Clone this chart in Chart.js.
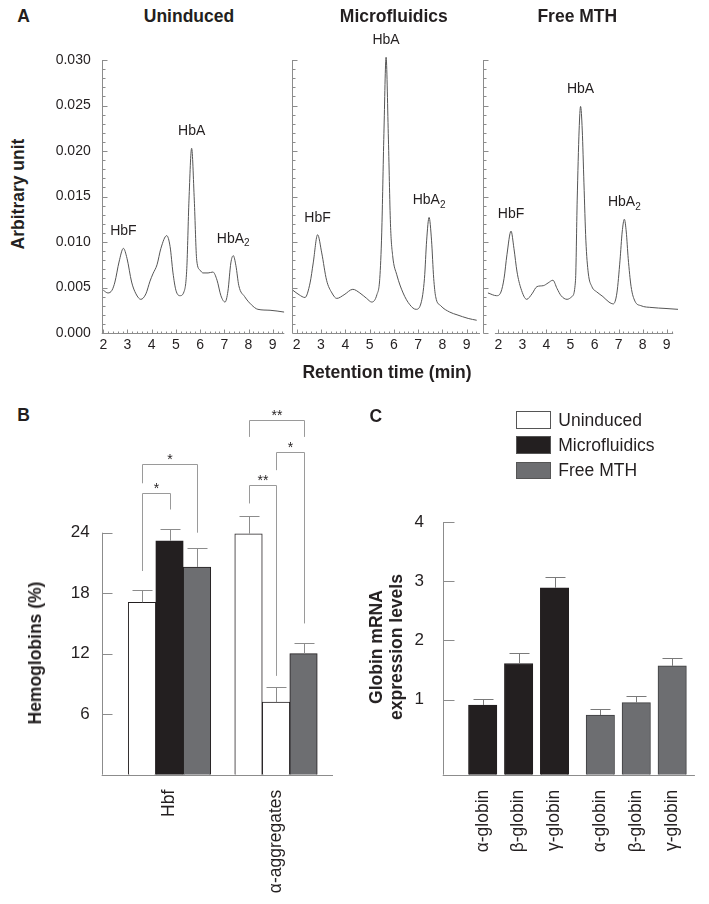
<!DOCTYPE html>
<html>
<head>
<meta charset="utf-8">
<script src="https://cdn.jsdelivr.net/npm/chart.js@4.4.1/dist/chart.umd.min.js"></script>
<style>
  body { margin: 0; background: #fff; font-family: "Liberation Sans", Arial, Helvetica, sans-serif; color: #231f20; }
  #page { position: relative; width: 709px; height: 904px; overflow: hidden; }
  canvas { position: absolute; }
  .t { position: absolute; white-space: nowrap; line-height: 20px; transform: translate(-50%, -50%); }
  .b { font-weight: bold; font-size: 17.5px; }
  .v { transform: translate(-50%, -50%) rotate(-90deg); text-align: center; }
  .key { position: absolute; left: 515.7px; width: 35.3px; height: 17.7px; box-sizing: border-box; border: 1px solid #555; }
  .keytext { position: absolute; left: 558.3px; font-size: 17.5px; line-height: 20px; white-space: nowrap; transform: translateY(-50%); }
</style>
</head>
<body>
<div id="page">
  <canvas id="cA1" width="260" height="340" style="left:30px;top:28px"></canvas>
  <canvas id="cA2" width="200" height="340" style="left:285px;top:28px"></canvas>
  <canvas id="cA3" width="220" height="340" style="left:477px;top:28px"></canvas>
  <canvas id="cB" width="310" height="520" style="left:40px;top:380px"></canvas>
  <canvas id="cC" width="354" height="420" style="left:355px;top:480px"></canvas>

  <div class="t b" style="left:23.7px;top:15.6px">A</div>
  <div class="t b" style="left:189px;top:15.6px">Uninduced</div>
  <div class="t b" style="left:393.8px;top:15.6px">Microfluidics</div>
  <div class="t b" style="left:577.3px;top:15.6px">Free MTH</div>
  <div class="t b v" style="left:18px;top:194px">Arbitrary unit</div>
  <div class="t b" style="left:387px;top:372.2px">Retention time (min)</div>
  <div class="t b" style="left:23.7px;top:414.6px">B</div>
  <div class="t b" style="left:375.8px;top:415.6px">C</div>
  <div class="t b v" style="left:35.4px;top:652.5px">Hemoglobins (%)</div>
  <div class="t b v" style="left:386px;top:647px">Globin mRNA<br>expression levels</div>
  <div id="legend"></div>
</div>
<script>
// ---- panel A: chromatograms ----
const retentionTicks = [2, 3, 4, 5, 6, 7, 8, 9];
const signalTicks = [0, 0.005, 0.010, 0.015, 0.020, 0.025, 0.030];
const peakNames = ['HbF', 'HbA', 'HbA2'];

const uninducedTime = [2.00, 2.19, 2.36, 2.48, 2.65, 2.83, 2.98, 3.17, 3.35, 3.55, 3.76, 3.93, 4.05, 4.22, 4.38,
  4.62, 4.76, 4.88, 5.00, 5.17, 5.33, 5.45, 5.54, 5.65, 5.76, 5.86, 6.00, 6.12, 6.33, 6.53, 6.70, 6.86, 7.03,
  7.15, 7.27, 7.37, 7.48, 7.60, 7.84, 8.12, 8.39, 8.89, 9.47];
const uninducedSignal = [0.0047, 0.0044, 0.0047, 0.0056, 0.0078, 0.0093, 0.0082, 0.0056, 0.0043, 0.0037, 0.0043,
  0.0057, 0.0065, 0.0075, 0.0093, 0.0107, 0.0095, 0.0066, 0.0047, 0.0041, 0.0045, 0.0071, 0.0146, 0.0203, 0.0146,
  0.0080, 0.0069, 0.0066, 0.0066, 0.0067, 0.0058, 0.0041, 0.0034, 0.0046, 0.0077, 0.0085, 0.0074, 0.0052, 0.0040,
  0.0031, 0.0026, 0.0025, 0.0023];
const uninducedPeaks = [2.83, 5.65, 7.37];

const microTime = [1.84, 2.10, 2.34, 2.55, 2.68, 2.86, 3.03, 3.23, 3.45, 3.65, 3.95, 4.31, 4.60, 4.88, 5.09, 5.30,
  5.42, 5.50, 5.59, 5.68, 5.77, 5.86, 5.95, 6.12, 6.38, 6.66, 6.91, 7.12, 7.26, 7.35, 7.45, 7.55, 7.64, 7.72,
  7.93, 8.30, 8.60, 9.06, 9.41];
const microSignal = [0.0047, 0.0042, 0.0039, 0.0055, 0.0077, 0.0108, 0.0088, 0.0058, 0.0044, 0.0038, 0.0042, 0.0048,
  0.0044, 0.0038, 0.0034, 0.0042, 0.0060, 0.0110, 0.0219, 0.0303, 0.0219, 0.0120, 0.0085, 0.0064, 0.0044, 0.0031,
  0.0026, 0.0033, 0.0060, 0.0102, 0.0127, 0.0102, 0.0060, 0.0040, 0.0030, 0.0023, 0.0020, 0.0016, 0.0014];
const microPeaks = [2.86, 5.68, 7.45];

const freeTime = [1.57, 1.93, 2.11, 2.24, 2.36, 2.53, 2.65, 2.78, 2.94, 3.18, 3.40, 3.61, 3.87, 4.07, 4.27, 4.44,
  4.61, 4.86, 5.06, 5.21, 5.28, 5.36, 5.42, 5.49, 5.56, 5.64, 5.74, 5.89, 6.10, 6.35, 6.60, 6.78, 6.93, 7.06,
  7.15, 7.24, 7.32, 7.40, 7.52, 7.68, 7.93, 8.39, 8.93, 9.47];
const freeSignal = [0.0044, 0.0041, 0.0045, 0.0060, 0.0086, 0.0112, 0.0093, 0.0067, 0.0049, 0.0037, 0.0043, 0.0051,
  0.0052, 0.0055, 0.0058, 0.0049, 0.0041, 0.0037, 0.0040, 0.0058, 0.0146, 0.0223, 0.0249, 0.0223, 0.0165, 0.0102,
  0.0066, 0.0051, 0.0045, 0.0040, 0.0034, 0.0032, 0.0044, 0.0080, 0.0111, 0.0125, 0.0111, 0.0082, 0.0051, 0.0035,
  0.0030, 0.0028, 0.0027, 0.0026];
const freePeaks = [2.53, 5.42, 7.24];

// ---- panel B: hemoglobins ----
const hbCategories = ['Hbf', 'α-aggregates'];
const treatments = ['Uninduced', 'Microfluidics', 'Free MTH'];
const uninducedHb = [17.1, 23.9];
const microHb = [23.2, 7.2];
const freeHb = [20.6, 12.0];
const uninducedHbErr = [1.2, 1.8];
const microHbErr = [1.2, 1.5];
const freeHbErr = [1.9, 1.1];
const hbTicks = [6, 12, 18, 24];
// group, bars compared, bracket height and leg ends (%), label
const hbBrackets = [
  { group: 0, from: 0, to: 1, level: 27.9, legs: [20.2, 26.3], label: '*' },
  { group: 0, from: 0, to: 2, level: 30.8, legs: [28.9, 24.0], label: '*' },
  { group: 1, from: 0, to: 2, level: 35.2, legs: [33.5, 33.5], label: '**' },
  { group: 1, from: 1, to: 2, level: 32.0, legs: [30.2, 15.0], label: '*' },
  { group: 1, from: 0, to: 1, level: 28.7, legs: [26.9, 9.8], label: '**' }
];

// ---- panel C: globin mRNA ----
const genes = ['α-globin', 'β-globin', 'γ-globin'];
const microMrna = [0.91, 1.61, 2.89];
const microMrnaErr = [0.10, 0.17, 0.19];
const freeMrna = [0.74, 0.95, 1.57];
const freeMrnaErr = [0.10, 0.11, 0.13];
const mrnaTicks = [1, 2, 3, 4];

const family = '"Liberation Sans", Arial, Helvetica, sans-serif';
const ink = '#231f20';
const axisGray = '#8c8c8c';
const fills = ['#ffffff', '#231f20', '#6d6e71'];

Chart.defaults.font.family = family;
Chart.defaults.color = ink;
Chart.defaults.animation = false;
Chart.defaults.plugins.legend.display = false;
Chart.defaults.plugins.tooltip.enabled = false;

const ticksAt = vals => scale => { scale.ticks = vals.map(v => ({ value: v })); };
const noGrid = { display: false, drawTicks: false };

function steps(m, range) {
  if (Array.isArray(m.at)) return m.at;
  const out = [];
  for (let k = Math.ceil(range[0] / m.step - 1e-6); k <= Math.floor(range[1] / m.step + 1e-6); k++) out.push(k * m.step);
  return out;
}

// axis lines with inward tick marks
function frame(o) {
  return {
    id: 'frame',
    afterDatasetsDraw(chart) {
      const ctx = chart.ctx, xs = chart.scales.x, ys = chart.scales.y;
      const px = v => xs.getPixelForValue(v), py = v => ys.getPixelForValue(v);
      const left = Math.round(xs.left) + 0.5, bottom = Math.round(ys.bottom) + 0.5;
      ctx.save();
      ctx.strokeStyle = o.color;
      ctx.lineWidth = 1;
      ctx.beginPath();
      ctx.moveTo(left, py(o.yLine[0])); ctx.lineTo(left, py(o.yLine[1]));
      ctx.moveTo(px(o.xLine[0]), bottom); ctx.lineTo(px(o.xLine[1]), bottom);
      (o.yMarks || []).forEach(m => steps(m, o.yLine).forEach(v => {
        const y = Math.round(py(v)) + 0.5;
        ctx.moveTo(left, y); ctx.lineTo(left + m.len, y);
      }));
      (o.xMarks || []).forEach(m => steps(m, o.xLine).forEach(v => {
        const x = Math.round(px(v)) + 0.5;
        ctx.moveTo(x, bottom); ctx.lineTo(x, bottom - m.len);
      }));
      ctx.stroke();
      ctx.restore();
    }
  };
}

function peakLabels(o) {
  return {
    id: 'peakLabels',
    afterDatasetsDraw(chart) {
      const meta = chart.getDatasetMeta(0), pts = chart.data.datasets[0].data, ctx = chart.ctx;
      ctx.save();
      ctx.fillStyle = ink;
      ctx.textBaseline = 'middle';
      ctx.textAlign = 'left';
      o.names.forEach((name, k) => {
        let best = 0;
        pts.forEach((p, i) => { if (Math.abs(p.x - o.times[k]) < Math.abs(pts[best].x - o.times[k])) best = i; });
        const el = meta.data[best];
        const m = /^(.*?)(\d)$/.exec(name);
        const main = m ? m[1] : name, sub = m ? m[2] : '';
        ctx.font = '14px ' + family;
        const w1 = ctx.measureText(main).width;
        ctx.font = '10px ' + family;
        const w2 = sub ? ctx.measureText(sub).width : 0;
        const x0 = el.x - (w1 + w2) / 2, y = el.y - o.offset;
        ctx.font = '14px ' + family;
        ctx.fillText(main, x0, y);
        if (sub) { ctx.font = '10px ' + family; ctx.fillText(sub, x0 + w1, y + 5); }
      });
      ctx.restore();
    }
  };
}

function errorBars(o) {
  return {
    id: 'errorBars',
    afterDatasetsDraw(chart) {
      const ctx = chart.ctx, ys = chart.scales.y;
      ctx.save();
      ctx.strokeStyle = o.color;
      ctx.lineWidth = 1;
      ctx.beginPath();
      chart.data.datasets.forEach((ds, i) => {
        chart.getDatasetMeta(i).data.forEach((bar, j) => {
          const x = Math.round(bar.x) + 0.5;
          const top = Math.round(ys.getPixelForValue(ds.data[j].y + o.errors[i][j])) + 0.5;
          ctx.moveTo(x, bar.y); ctx.lineTo(x, top);
          ctx.moveTo(x - o.cap / 2, top); ctx.lineTo(x + o.cap / 2, top);
        });
      });
      ctx.stroke();
      ctx.restore();
    }
  };
}

function brackets(o) {
  return {
    id: 'brackets',
    afterDatasetsDraw(chart) {
      const ctx = chart.ctx, ys = chart.scales.y;
      ctx.save();
      ctx.strokeStyle = o.color;
      ctx.lineWidth = 1;
      ctx.fillStyle = ink;
      ctx.font = '14px ' + family;
      ctx.textAlign = 'center';
      ctx.textBaseline = 'alphabetic';
      o.items.forEach(b => {
        const xa = Math.round(chart.getDatasetMeta(b.from).data[b.group].x) + 0.5;
        const xb = Math.round(chart.getDatasetMeta(b.to).data[b.group].x) + 0.5;
        const yl = Math.round(ys.getPixelForValue(b.level)) + 0.5;
        ctx.beginPath();
        ctx.moveTo(xa, ys.getPixelForValue(b.legs[0]));
        ctx.lineTo(xa, yl); ctx.lineTo(xb, yl);
        ctx.lineTo(xb, ys.getPixelForValue(b.legs[1]));
        ctx.stroke();
        ctx.fillText(b.label, (xa + xb) / 2, yl - 1);
      });
      ctx.restore();
    }
  };
}

function chromatogram(id, time, signal, peaks, o) {
  return new Chart(document.getElementById(id), {
    type: 'line',
    data: {
      datasets: [{
        data: time.map((t, i) => ({ x: t, y: signal[i] })),
        borderColor: '#555555', borderWidth: 1, pointRadius: 0,
        cubicInterpolationMode: 'monotone', clip: false
      }]
    },
    options: {
      responsive: false,
      layout: { padding: { top: 32, right: o.padRight, left: 0, bottom: 0 } },
      scales: {
        x: {
          type: 'linear', bounds: 'data', min: o.xMin, max: o.xMax,
          grid: noGrid, border: { display: false },
          afterBuildTicks: ticksAt(retentionTicks),
          afterFit: s => { s.height = 35; },
          ticks: { autoSkip: false, maxRotation: 0, padding: 4, font: { size: 14 }, callback: v => String(v) }
        },
        y: {
          type: 'linear', bounds: 'data', min: 0, max: 0.030,
          grid: noGrid, border: { display: false },
          afterBuildTicks: ticksAt(signalTicks),
          afterFit: s => { s.width = o.yWidth; },
          ticks: { display: o.yLabels, padding: 11, font: { size: 14 }, callback: v => v.toFixed(3) }
        }
      }
    },
    plugins: [
      frame({
        color: axisGray, yLine: [0, 0.030], xLine: o.xLine,
        yMarks: [{ step: 0.005, len: 5 }, { step: 0.001, len: 3 }],
        xMarks: [{ step: 1, len: 4 }, { step: 0.2, len: 2 }]
      }),
      peakLabels({ names: peakNames, times: peaks, offset: 17 })
    ]
  });
}

chromatogram('cA1', uninducedTime, uninducedSignal, uninducedPeaks,
  { xMin: 1.934, xMax: 9.479, xLine: [1.934, 9.479], yWidth: 71.7, yLabels: true, padRight: 5.7 });
chromatogram('cA2', microTime, microSignal, microPeaks,
  { xMin: 1.794, xMax: 9.546, xLine: [1.93, 9.546], yWidth: 6.7, yLabels: false, padRight: 5 });
chromatogram('cA3', freeTime, freeSignal, freePeaks,
  { xMin: 1.377, xMax: 9.47, xLine: [1.86, 9.27], yWidth: 6.3, yLabels: false, padRight: 19 });

// ---- panel B ----
const hbValues = [uninducedHb, microHb, freeHb];
const hbErrors = [uninducedHbErr, microHbErr, freeHbErr];
const hbFill = [[fills[0], fills[0]], [fills[1], fills[0]], [fills[2], fills[2]]];

new Chart(document.getElementById('cB'), {
  type: 'bar',
  data: {
    datasets: treatments.map((name, k) => ({
      label: name,
      data: hbCategories.map((c, i) => ({ x: i + 1, y: hbValues[k][i] })),
      backgroundColor: hbFill[k],
      borderColor: ink, borderWidth: 1, barThickness: 27.5
    }))
  },
  options: {
    responsive: false,
    layout: { padding: { top: 31.7, right: 17, left: 0, bottom: 0 } },
    scales: {
      x: {
        type: 'linear', bounds: 'data', min: 0.3634, max: 2.535, offset: false,
        grid: noGrid, border: { display: false },
        afterBuildTicks: ticksAt(hbCategories.map((c, i) => i + 1)),
        afterFit: s => { s.height = 125.3; },
        ticks: { autoSkip: false, minRotation: 90, maxRotation: 90, padding: 15, font: { size: 17.5 },
          callback: (v, i) => hbCategories[i] }
      },
      y: {
        type: 'linear', bounds: 'data', min: 0, max: 36,
        grid: noGrid, border: { display: false },
        afterBuildTicks: ticksAt(hbTicks),
        afterFit: s => { s.width = 61.7; },
        ticks: { padding: 12, font: { size: 17 } }
      }
    }
  },
  plugins: [
    frame({ color: axisGray, yLine: [0, 24], xLine: [0.3634, 2.535], yMarks: [{ at: hbTicks, len: 10 }] }),
    errorBars({ color: axisGray, cap: 20, errors: hbErrors }),
    brackets({ color: '#9a9a9a', items: hbBrackets })
  ]
});

// ---- panel C ----
const mrnaMin = -0.268;
const groupShift = 3.274;
const mrnaX = [genes.map((g, i) => i), genes.map((g, i) => i + groupShift)];

new Chart(document.getElementById('cC'), {
  type: 'bar',
  data: {
    datasets: [
      { label: treatments[1], data: genes.map((g, i) => ({ x: mrnaX[0][i], y: microMrna[i] })),
        backgroundColor: fills[1], borderColor: ink },
      { label: treatments[2], data: genes.map((g, i) => ({ x: mrnaX[1][i], y: freeMrna[i] })),
        backgroundColor: fills[2], borderColor: '#3d3d3f' }
    ].map(ds => Object.assign(ds, { borderWidth: 1, barThickness: 28.4, grouped: false, base: mrnaMin }))
  },
  options: {
    responsive: false,
    layout: { padding: { top: 42.05, right: 9, left: 0, bottom: 0 } },
    scales: {
      x: {
        type: 'linear', bounds: 'data', min: -1.113, max: 5.907, offset: false,
        grid: noGrid, border: { display: false },
        afterBuildTicks: ticksAt(mrnaX[0].concat(mrnaX[1])),
        afterFit: s => { s.height = 125.3; },
        ticks: { autoSkip: false, minRotation: 90, maxRotation: 90, padding: 15, font: { size: 17.5 },
          callback: (v, i) => genes[i % genes.length] }
      },
      y: {
        type: 'linear', bounds: 'data', min: mrnaMin, max: 4,
        grid: noGrid, border: { display: false },
        afterBuildTicks: ticksAt(mrnaTicks),
        afterFit: s => { s.width = 87.7; },
        ticks: { padding: 18.7, font: { size: 17 } }
      }
    }
  },
  plugins: [
    frame({ color: axisGray, yLine: [mrnaMin, 4], xLine: [-1.113, 5.907], yMarks: [{ at: mrnaTicks, len: 11 }] }),
    errorBars({ color: '#7a7a7a', cap: 20, errors: [microMrnaErr, freeMrnaErr] })
  ]
});

// shared legend
const legend = document.getElementById('legend');
treatments.forEach((name, k) => {
  const top = 411 + k * 25.3;
  const box = document.createElement('div');
  box.className = 'key';
  box.style.top = top + 'px';
  box.style.background = fills[k];
  legend.appendChild(box);
  const label = document.createElement('div');
  label.className = 'keytext';
  label.style.top = (top + 8.85) + 'px';
  label.textContent = name;
  legend.appendChild(label);
});
</script>
</body>
</html>
